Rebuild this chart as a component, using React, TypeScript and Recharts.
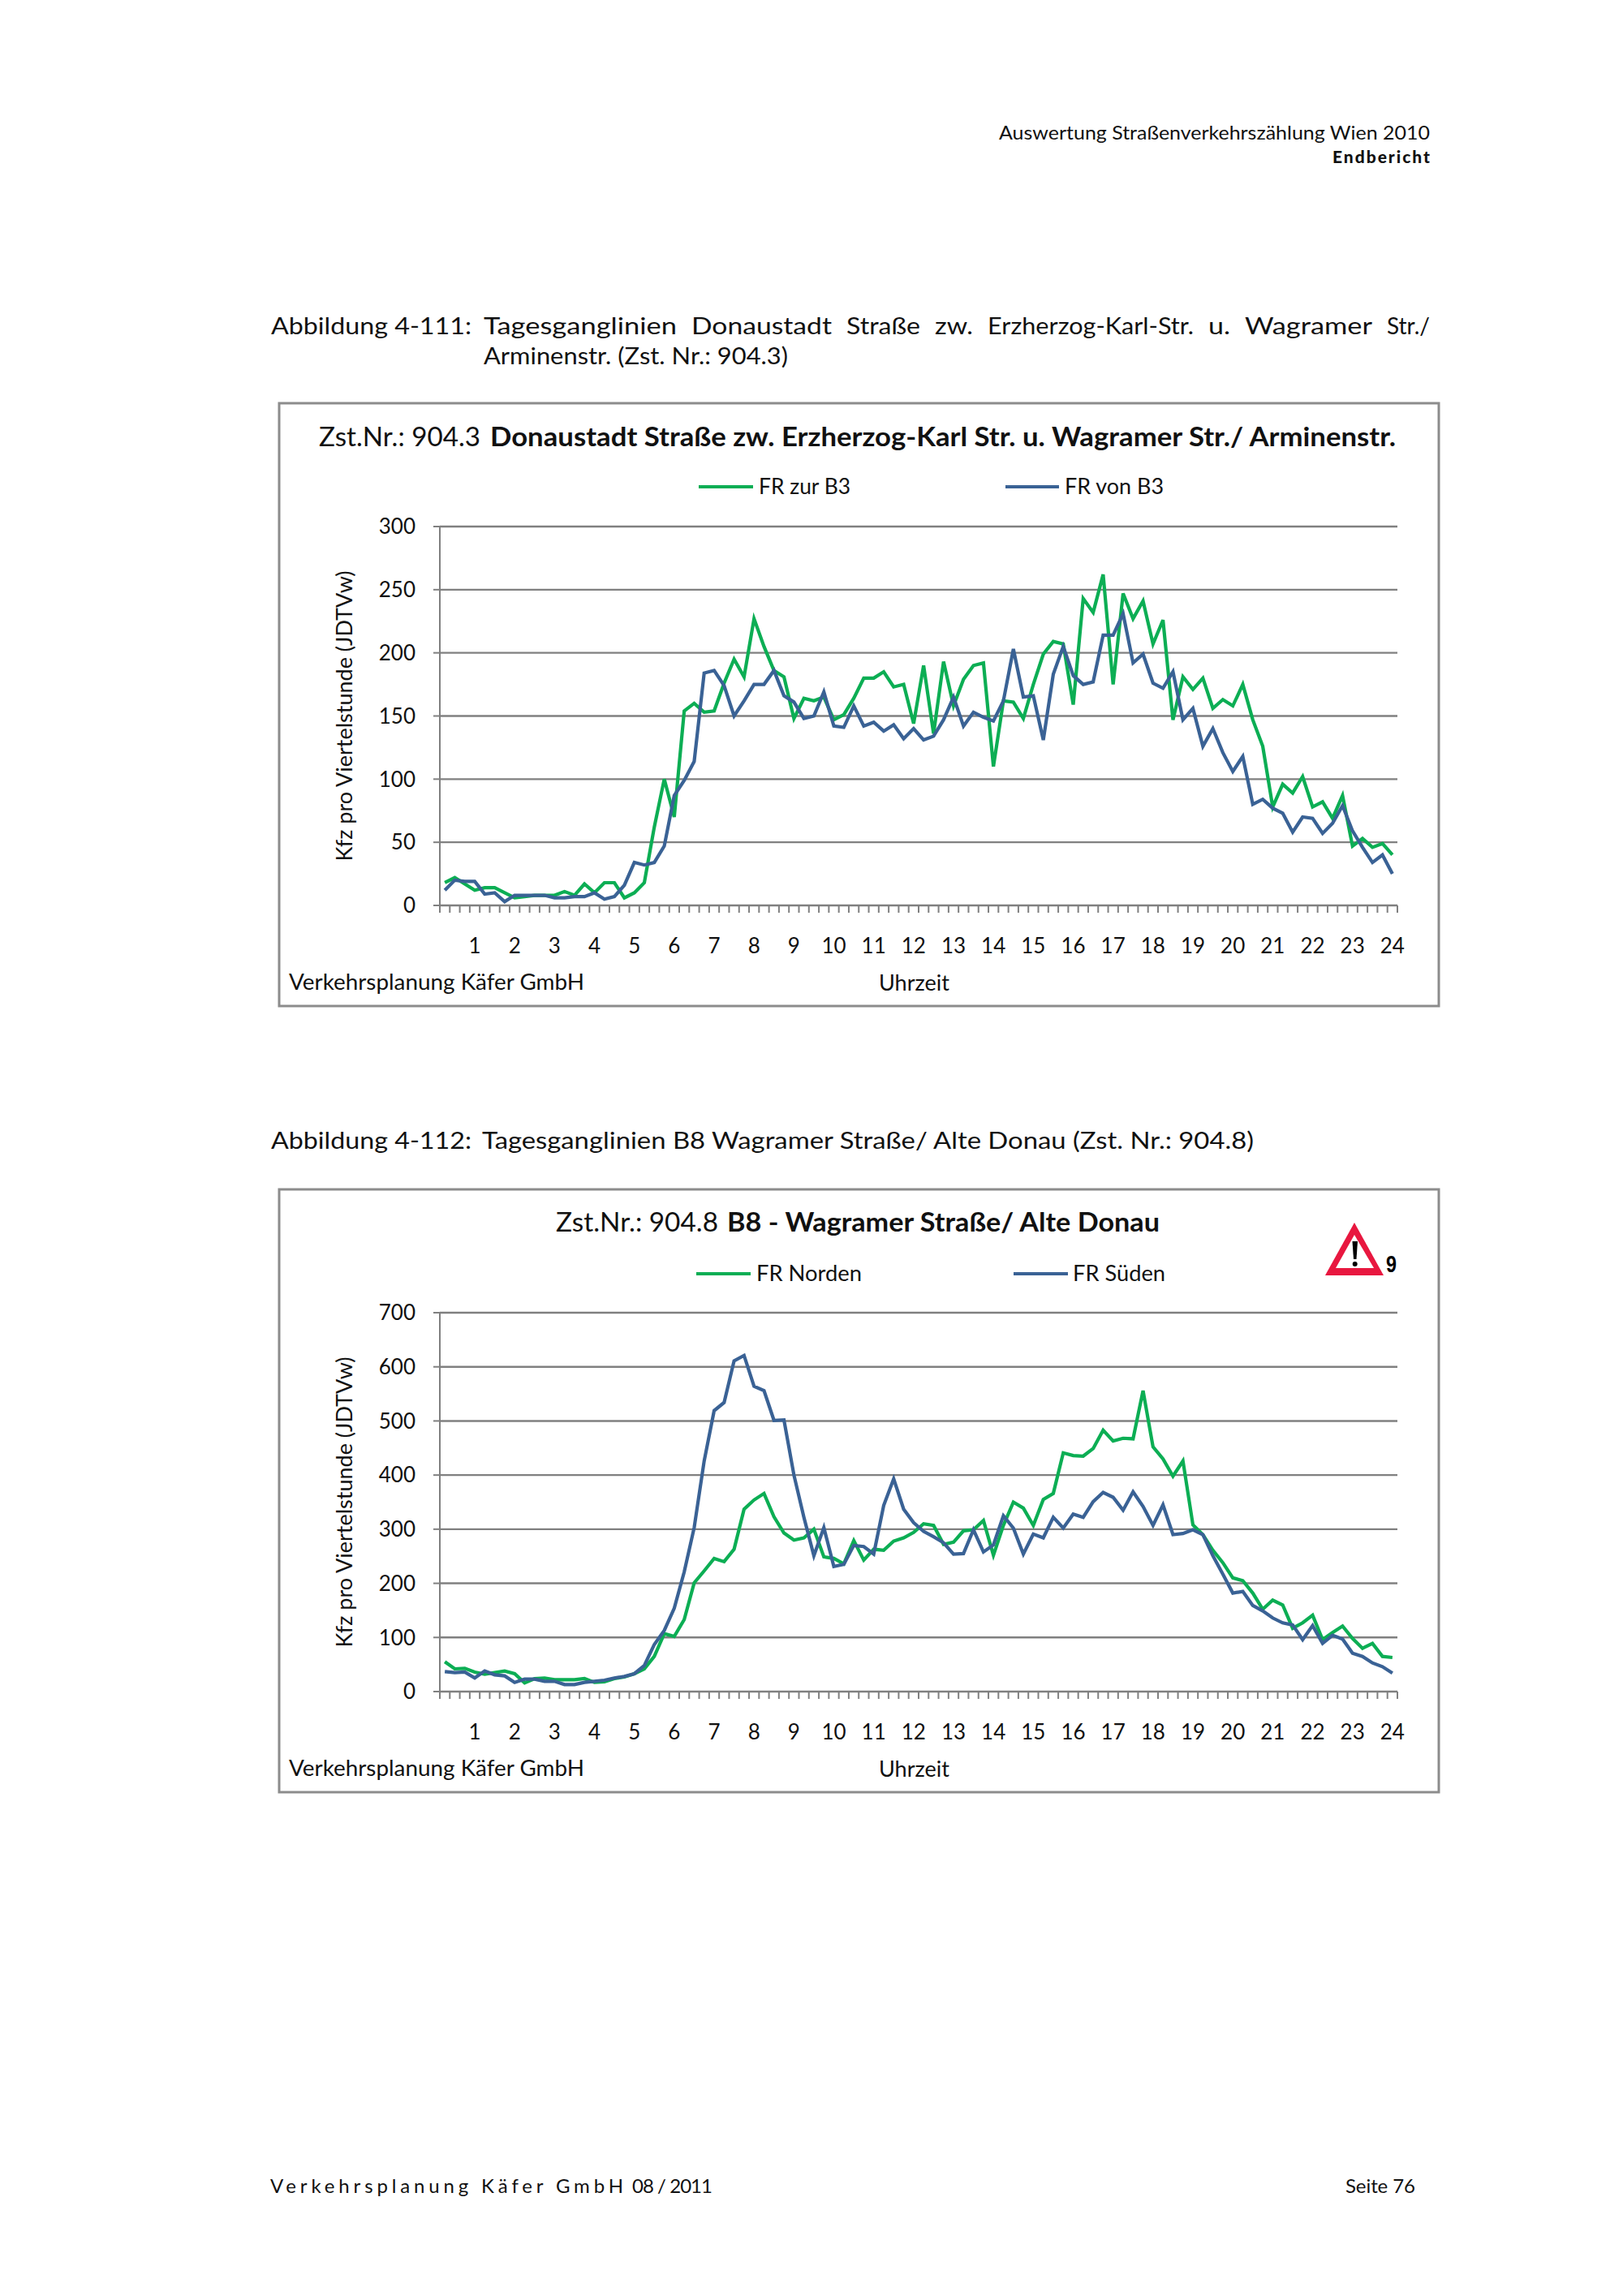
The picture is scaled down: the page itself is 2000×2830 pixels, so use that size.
import { LineChart, Line, XAxis, YAxis, CartesianGrid } from 'recharts'

const hourLabels = ['1', '2', '3', '4', '5', '6', '7', '8', '9', '10', '11', '12', '13', '14', '15', '16', '17', '18', '19', '20', '21', '22', '23', '24']

const zurB3 = [
  18, 22, 17, 12, 14, 14, 10, 6, 7, 8, 8, 8, 11, 8, 17, 10,
  18, 18, 6, 10, 18, 62, 100, 70, 154, 160, 153, 154, 176, 195, 181, 227,
  205, 186, 181, 148, 164, 162, 165, 147, 151, 164, 180, 180, 185, 173, 175, 144,
  190, 136, 193, 158, 179, 190, 192, 110, 162, 161, 148, 175, 199, 209, 207, 159,
  243, 232, 262, 175, 247, 227, 241, 207, 226, 147, 181, 171, 180, 156, 163, 158,
  175, 147, 126, 78, 96, 89, 102, 78, 82, 69, 87, 47, 53, 46, 49, 40,
]
const vonB3 = [
  12, 20, 19, 19, 9, 10, 3, 8, 8, 8, 8, 6, 6, 7, 7, 10,
  5, 7, 16, 34, 32, 34, 47, 87, 99, 114, 184, 186, 174, 150, 162, 175,
  175, 186, 166, 161, 148, 150, 169, 142, 141, 158, 142, 145, 138, 143, 132, 140,
  131, 134, 147, 165, 142, 153, 149, 146, 162, 203, 165, 166, 131, 183, 205, 182,
  175, 177, 214, 214, 231, 192, 199, 176, 172, 185, 147, 156, 126, 140, 121, 106,
  118, 80, 84, 77, 73, 58, 70, 69, 57, 65, 79, 59, 46, 34, 40, 25,
]
const norden = [
  55, 42, 43, 36, 32, 35, 38, 33, 16, 24, 25, 22, 22, 22, 24, 17,
  18, 24, 27, 33, 42, 65, 107, 102, 133, 201, 223, 246, 240, 263, 337, 354,
  366, 323, 293, 280, 284, 300, 249, 246, 236, 279, 243, 263, 261, 278, 284, 294,
  310, 307, 272, 276, 297, 299, 316, 252, 307, 350, 339, 307, 355, 366, 441, 436,
  435, 449, 483, 463, 468, 467, 556, 452, 430, 398, 426, 308, 290, 261, 238, 210,
  205, 182, 152, 169, 160, 117, 127, 141, 96, 109, 121, 98, 80, 89, 65, 63,
]
const sueden = [
  37, 35, 36, 25, 38, 31, 29, 17, 23, 23, 19, 19, 13, 13, 17, 19,
  21, 25, 28, 33, 48, 87, 113, 154, 221, 303, 426, 519, 534, 611, 621, 564,
  556, 501, 502, 400, 322, 251, 303, 231, 235, 270, 268, 254, 344, 393, 337, 312,
  296, 286, 275, 254, 255, 299, 258, 271, 325, 302, 254, 291, 284, 322, 302, 328,
  322, 351, 368, 359, 335, 369, 342, 307, 345, 290, 292, 299, 290, 251, 217, 182,
  185, 159, 149, 136, 127, 123, 96, 122, 89, 104, 97, 71, 65, 53, 46, 34,
]

const ticks1 = [0, 50, 100, 150, 200, 250, 300]
const ticks2 = [0, 100, 200, 300, 400, 500, 600, 700]

const GREEN = '#0cae54'
const BLUE = '#3a6295'
const GREY = '#808080'
const FONT = 'Lato'

const slotTicks = Array.from({ length: 97 }, (_, i) => i)
const labelTicks = hourLabels.map((_, i) => i * 4 + 3.5)

interface ChartProps {
  top: number
  first: number[]
  second: number[]
  firstName: string
  secondName: string
  yTicks: number[]
}

function TagesChart({ top, first, second, firstName, secondName, yTicks }: ChartProps) {
  const data = first.map((v, i) => ({ slot: i + 0.5, first: v, second: second[i] }))
  return (
    <div style={{ position: 'absolute', left: 344, top }}>
      <LineChart width={1430} height={743} data={data} margin={{ top: 152, right: 52, left: 0, bottom: 54 }}>
        <CartesianGrid xAxisId={0} vertical={false} stroke={GREY} strokeWidth={2.4} />
        <XAxis
          xAxisId={0}
          type="number"
          dataKey="slot"
          domain={[0, 96]}
          ticks={slotTicks}
          interval={0}
          height={10}
          tickSize={9}
          tickFormatter={() => ''}
          stroke={GREY}
          strokeWidth={2}
        />
        <XAxis
          xAxisId={1}
          type="number"
          dataKey="slot"
          domain={[0, 96]}
          ticks={labelTicks}
          interval={0}
          height={60}
          tickSize={0}
          tickMargin={31}
          axisLine={false}
          tickLine={false}
          tickFormatter={(v: number) => hourLabels[(v - 3.5) / 4]}
          tick={{ fontFamily: FONT, fontSize: 26, fill: '#111' }}
        />
        <YAxis
          width={198}
          domain={[0, yTicks[yTicks.length - 1]]}
          ticks={yTicks}
          interval={0}
          tickSize={8}
          tickMargin={22}
          stroke={GREY}
          strokeWidth={2}
          tick={{ fontFamily: FONT, fontSize: 26, fill: '#111' }}
          label={{
            value: 'Kfz pro Viertelstunde (JDTVw)',
            angle: -90,
            position: 'insideLeft',
            offset: 80,
            style: { textAnchor: 'middle', fontFamily: FONT, fontSize: 27, fill: '#111' },
          }}
        />
        <Line xAxisId={0} name={firstName} dataKey="first" stroke={GREEN} strokeWidth={4.2} dot={false} isAnimationActive={false} />
        <Line xAxisId={0} name={secondName} dataKey="second" stroke={BLUE} strokeWidth={4.2} dot={false} isAnimationActive={false} />
      </LineChart>
    </div>
  )
}

// fitted text, x0..x1 is the width measured on the page
function T({ x0, x1, y, size, weight = 400, text, adjust = 'spacingAndGlyphs', family = FONT, fill = '#111' }: {
  x0: number; x1: number; y: number; size: number; weight?: number; text: string; adjust?: string; family?: string; fill?: string
}) {
  return (
    <text x={x0} y={y} fontFamily={family} fontSize={size} fontWeight={weight} fill={fill} textLength={x1 - x0} lengthAdjust={adjust}>
      {text}
    </text>
  )
}

const captionWords: [string, number, number][] = [
  ['Tagesganglinien', 596, 834],
  ['Donaustadt', 852, 1025],
  ['Straße', 1043, 1134],
  ['zw.', 1152, 1199],
  ['Erzherzog-Karl-Str.', 1217, 1471],
  ['u.', 1489, 1516],
  ['Wagramer', 1534, 1691],
  ['Str./', 1709, 1762],
]

function PageText() {
  return (
    <svg width={2000} height={2830} style={{ position: 'absolute', left: 0, top: 0 }}>
      <T x0={1231} x1={1762} y={172} size={23} text="Auswertung Straßenverkehrszählung Wien 2010" />
      <T x0={1642} x1={1762} y={201} size={21} weight={900} text="Endbericht" adjust="spacing" />

      <T x0={334} x1={581} y={412} size={28} text="Abbildung 4-111:" />
      {captionWords.map(([w, a, b]) => (
        <T key={w} x0={a} x1={b} y={412} size={28} text={w} />
      ))}
      <T x0={596} x1={971} y={449} size={28} text="Arminenstr. (Zst. Nr.: 904.3)" />

      <rect x={344} y={497} width={1429} height={743} fill="none" stroke="#8c8c8c" strokeWidth={3} />
      <T x0={393} x1={592} y={550} size={32} text="Zst.Nr.: 904.3" />
      <T x0={604} x1={1720} y={550} size={32} weight={700} text="Donaustadt Straße zw. Erzherzog-Karl Str. u. Wagramer Str./ Arminenstr." />
      <line x1={861} x2={928} y1={600} y2={600} stroke={GREEN} strokeWidth={4.2} />
      <T x0={935} x1={1048} y={609} size={26} text="FR zur B3" />
      <line x1={1239} x2={1305} y1={600} y2={600} stroke={BLUE} strokeWidth={4.2} />
      <T x0={1312} x1={1434} y={609} size={26} text="FR von B3" />
      <T x0={356} x1={720} y={1220} size={27} text="Verkehrsplanung Käfer GmbH" />
      <T x0={1083} x1={1170} y={1221} size={26} text="Uhrzeit" />

      <T x0={334} x1={581} y={1416} size={28} text="Abbildung 4-112:" />
      <T x0={594} x1={1545} y={1416} size={28} text="Tagesganglinien B8 Wagramer Straße/ Alte Donau (Zst. Nr.: 904.8)" />

      <rect x={344} y={1466} width={1429} height={743} fill="none" stroke="#8c8c8c" strokeWidth={3} />
      <T x0={685} x1={885} y={1518} size={32} text="Zst.Nr.: 904.8" />
      <T x0={896} x1={1429} y={1518} size={32} weight={700} text="B8 - Wagramer Straße/ Alte Donau" />
      <line x1={858} x2={925} y1={1570} y2={1570} stroke={GREEN} strokeWidth={4.2} />
      <T x0={932} x1={1062} y={1579} size={26} text="FR Norden" />
      <line x1={1249} x2={1316} y1={1570} y2={1570} stroke={BLUE} strokeWidth={4.2} />
      <T x0={1322} x1={1436} y={1579} size={26} text="FR Süden" />
      <T x0={356} x1={720} y={2189} size={27} text="Verkehrsplanung Käfer GmbH" />
      <T x0={1083} x1={1170} y={2190} size={26} text="Uhrzeit" />

      <polygon points="1669,1507 1705,1572 1633,1572" fill="#e8173f" />
      <polygon points="1669,1522 1693,1563 1646,1563" fill="#fff" />
      <polygon points="1666.5,1530 1673,1530 1671.5,1552 1668,1552" fill="#000" />
      <circle cx={1669.7} cy={1558} r={3} fill="#000" />
      <T x0={1708} x1={1721} y={1568} size={29} weight={700} text="9" family="Liberation Sans" fill="#000" />

      <T x0={333} x1={768} y={2703} size={24} text="Verkehrsplanung Käfer GmbH" adjust="spacing" />
      <T x0={779} x1={878} y={2703} size={24} text="08 / 2011" adjust="spacing" />
      <T x0={1658} x1={1744} y={2703} size={24} text="Seite 76" adjust="spacing" />
    </svg>
  )
}

export default function App() {
  return (
    <div style={{ position: 'absolute', left: 0, top: 0, width: 2000, height: 2830, background: '#fff' }}>
      <TagesChart top={497} first={zurB3} second={vonB3} firstName="FR zur B3" secondName="FR von B3" yTicks={ticks1} />
      <TagesChart top={1466} first={norden} second={sueden} firstName="FR Norden" secondName="FR Süden" yTicks={ticks2} />
      <PageText />
    </div>
  )
}
